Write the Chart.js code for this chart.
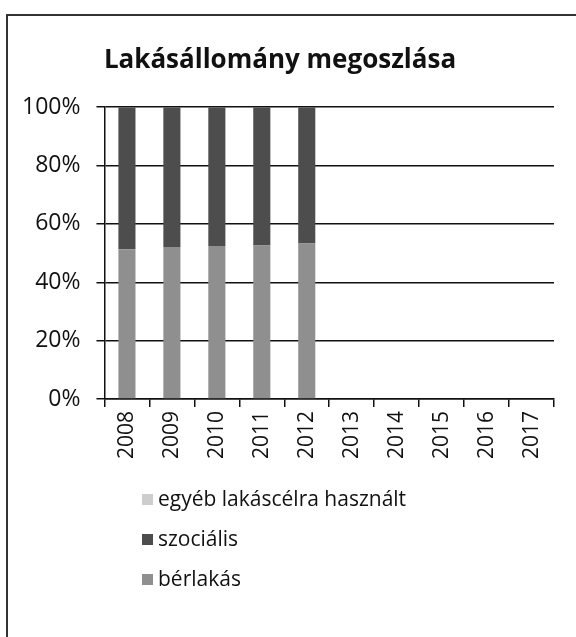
<!DOCTYPE html>
<html>
<head>
<meta charset="utf-8">
<script src="https://cdn.jsdelivr.net/npm/chart.js@4.4.0/dist/chart.umd.min.js"></script>
<style>
  body { margin: 0; background: #fff; }
  #frame { position: absolute; left: 6px; top: 14px; width: 600px; height: 700px;
           border-left: 2px solid #333; border-top: 2px solid #333; }
  #wrap { position: absolute; left: 0; top: 0; width: 576px; height: 637px; }
  #legend { position: absolute; left: 142px; top: 483px; font-family: "Open Sans", sans-serif;
            font-size: 21px; color: #111; }
  #legend div { height: 40px; line-height: 30px; white-space: nowrap; }
  #legend span.box { display: inline-block; width: 11px; height: 11px; margin-right: 5px; vertical-align: 1px; }
</style>
</head>
<body>
<div id="frame"></div>
<div id="wrap"><canvas id="barChart" width="576" height="637"></canvas></div>
<div id="legend"></div>
<script>
// years on the x axis
const years = ["2008", "2009", "2010", "2011", "2012", "2013", "2014", "2015", "2016", "2017"];
// share of the housing stock, percent
const berlakas = [51.3, 52.1, 52.4, 52.6, 53.3, null, null, null, null, null];
const szocialis = [48.7, 47.9, 47.6, 47.4, 46.7, null, null, null, null, null];
const egyeb = [0, 0, 0, 0, 0, null, null, null, null, null];
const yTicks = [0, 20, 40, 60, 80, 100];

const seriesNames = ["bérlakás", "szociális", "egyéb lakáscélra használt"];
const seriesColors = ["#8f8f8f", "#4d4d4d", "#cdcdcd"];
const seriesData = [berlakas, szocialis, egyeb];

const barChart = document.getElementById("barChart");
new Chart(barChart, {
  type: "bar",
  data: {
    labels: years,
    datasets: seriesData.map((d, i) => ({
      label: seriesNames[i],
      data: d,
      backgroundColor: seriesColors[i],
      barPercentage: 0.38,
      categoryPercentage: 1,
    })),
  },
  options: {
    responsive: false,
    animation: false,
    layout: { padding: { left: 6, right: 22, bottom: 174 } },
    plugins: {
      legend: { display: false },
      tooltip: { enabled: false },
      title: {
        display: true,
        text: "Lakásállomány megoszlása",
        color: "#111",
        font: { family: "Open Sans", size: 26, weight: "bold" },
        padding: { top: 45, bottom: 31 },
      },
    },
    scales: {
      x: {
        stacked: true,
        grid: { drawOnChartArea: false, drawTicks: true, tickLength: 8, color: "#111", lineWidth: 1.5 },
        border: { color: "#111", width: 1.5 },
        ticks: {
          color: "#111",
          font: { family: "Open Sans", size: 21 },
          minRotation: 90,
          maxRotation: 90,
          padding: 4,
        },
      },
      y: {
        stacked: true,
        min: 0,
        max: 100,
        afterBuildTicks: (axis) => {
          axis.ticks = yTicks.map((v) => ({ value: v }));
        },
        grid: { color: "#111", lineWidth: 1.5, tickLength: 8 },
        border: { color: "#111", width: 1.5 },
        ticks: {
          color: "#111",
          font: { family: "Open Sans", size: 23 },
          padding: 16,
          callback: (v) => v + "%",
        },
      },
    },
  },
});

// legend, listed in reverse order like the original
const legend = document.getElementById("legend");
for (let i = seriesNames.length - 1; i >= 0; i--) {
  const row = document.createElement("div");
  row.innerHTML = '<span class="box" style="background:' + seriesColors[i] + '"></span>' + seriesNames[i];
  legend.appendChild(row);
}
</script>
</body>
</html>
